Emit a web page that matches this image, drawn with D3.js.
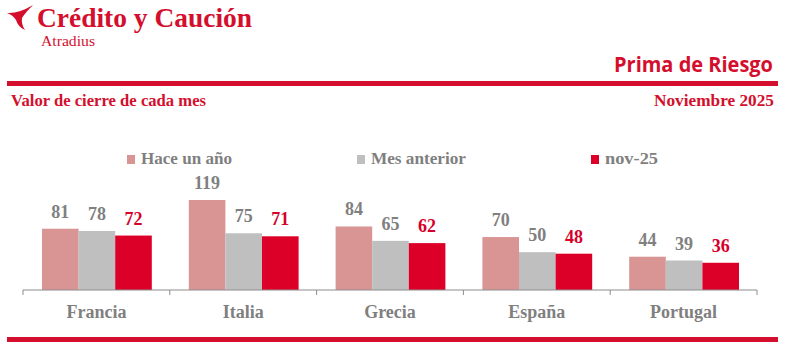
<!DOCTYPE html>
<html><head><meta charset="utf-8">
<script src="https://cdn.jsdelivr.net/npm/d3@7"></script>
<style>
body{margin:0;background:#fff;}
svg{display:block;}
</style></head>
<body>
<svg id="chart" width="786" height="351"></svg>
<script>
const categories = ["Francia","Italia","Grecia","España","Portugal"];
const seriesNames = ["Hace un año","Mes anterior","nov-25"];
const haceUnAno = [81,119,84,70,44];
const mesAnterior = [78,75,65,50,39];
const nov25 = [72,71,62,48,36];
const seriesValues = [haceUnAno, mesAnterior, nov25];
const colors = ["#d99594","#bfbfbf","#dc0028"];
const labelColors = ["#808080","#808080","#d6002a"];

const RED = "#d40f2e";
const GRAY = "#7f7f7f";
const serif = "'Liberation Serif', 'DejaVu Serif', serif";
const svg = d3.select("#chart");

// Header
svg.append("path")
  .attr("d","M7,13 Q18,14 33,5 Q25,13 22,18 Q21,24 25,30 Q18,27 16,20 Q13,15 7,13 Z")
  .attr("fill", RED);
svg.append("text").attr("x",37).attr("y",27).attr("fill",RED)
  .attr("font-family",serif).attr("font-weight","bold").attr("font-size",28)
  .attr("textLength",215).attr("lengthAdjust","spacingAndGlyphs")
  .text("Crédito y Caución");
svg.append("text").attr("x",41).attr("y",45.5).attr("fill",RED)
  .attr("font-family",serif).attr("font-size",15)
  .attr("textLength",54).attr("lengthAdjust","spacingAndGlyphs")
  .text("Atradius");
svg.append("text").attr("x",773).attr("y",72).attr("text-anchor","end").attr("fill",RED)
  .attr("font-family","'Open Sans', sans-serif").attr("font-weight","bold").attr("font-size",21)
  .attr("textLength",159).attr("lengthAdjust","spacingAndGlyphs")
  .text("Prima de Riesgo");
svg.append("rect").attr("x",7).attr("y",81).attr("width",771).attr("height",5).attr("fill",RED);
svg.append("text").attr("x",11).attr("y",105.5).attr("fill",RED)
  .attr("font-family",serif).attr("font-weight","bold").attr("font-size",17)
  .attr("textLength",195).attr("lengthAdjust","spacingAndGlyphs")
  .text("Valor de cierre de cada mes");
svg.append("text").attr("x",774).attr("y",105.5).attr("text-anchor","end").attr("fill",RED)
  .attr("font-family",serif).attr("font-weight","bold").attr("font-size",17)
  .attr("textLength",120).attr("lengthAdjust","spacingAndGlyphs")
  .text("Noviembre 2025");
svg.append("rect").attr("x",7).attr("y",337).attr("width",771).attr("height",5).attr("fill",RED);

// Legend
const legendX = [127,357,591];
const legendW = [91,95,53];
seriesNames.forEach((n,i)=>{
  svg.append("rect").attr("x",legendX[i]).attr("y",155).attr("width",8).attr("height",9).attr("fill",colors[i]);
  svg.append("text").attr("x",legendX[i]+14).attr("y",164).attr("fill",GRAY)
    .attr("font-family",serif).attr("font-weight","bold").attr("font-size",17)
    .attr("textLength",legendW[i]).attr("lengthAdjust","spacingAndGlyphs")
    .text(n);
});

// Chart
const x0 = d3.scaleBand().domain(categories).range([23,757]).paddingInner(0).paddingOuter(0);
const x1 = d3.scaleBand().domain(d3.range(3)).range([19, x0.bandwidth()-18]);
const y = d3.scaleLinear().domain([0,119]).range([290,200]);

const g = svg.append("g");
categories.forEach((c,ci)=>{
  seriesValues.forEach((vals,si)=>{
    const v = vals[ci];
    const bx = x0(c)+x1(si);
    g.append("rect").attr("x",bx).attr("y",y(v)).attr("width",x1.bandwidth()).attr("height",y(0)-y(v)).attr("fill",colors[si]);
    g.append("text").attr("x",bx+x1.bandwidth()/2).attr("y",y(v)-11).attr("text-anchor","middle")
      .attr("fill",labelColors[si]).attr("font-family",serif).attr("font-weight","bold").attr("font-size",18)
      .text(v);
  });
});

const ax = svg.append("g").attr("transform","translate(0,290)");
ax.append("line").attr("x1",23).attr("x2",757).attr("stroke","#8c8c8c").attr("stroke-width",1);
const tickPos = categories.map(c=>x0(c)).concat([x0.range()[1]]);
tickPos.forEach(t=>ax.append("line").attr("x1",t).attr("x2",t).attr("y1",0).attr("y2",5).attr("stroke","#8c8c8c"));
categories.forEach(c=>{
  ax.append("text").attr("x",x0(c)+x0.bandwidth()/2).attr("y",28).attr("text-anchor","middle")
    .attr("fill",GRAY).attr("font-family",serif).attr("font-weight","bold").attr("font-size",18)
    .text(c);
});
</script>
</body></html>
